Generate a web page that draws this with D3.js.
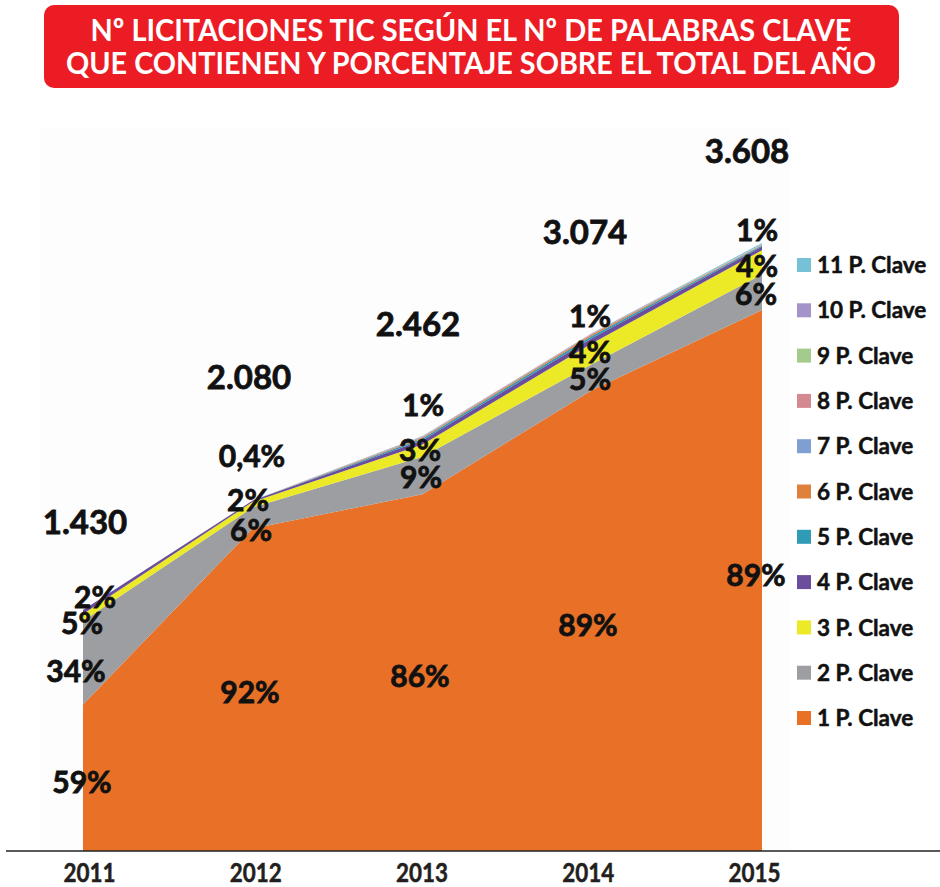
<!DOCTYPE html>
<html>
<head>
<meta charset="utf-8">
<script src="https://cdn.jsdelivr.net/npm/d3@7"></script>
<style>
  html, body { margin: 0; padding: 0; background: #fff; }
  svg { display: block; font-family: Lato, "Open Sans", sans-serif; }
</style>
</head>
<body>
<svg id="chart" width="940" height="887"></svg>
<script>
// ─── data ───
const years = [2011, 2012, 2013, 2014, 2015];
const totals = [1430, 2080, 2462, 3074, 3608];
const seriesNames = ['1 P. Clave', '2 P. Clave', '3 P. Clave', '4 P. Clave', '5 P. Clave', '6 P. Clave',
  '7 P. Clave', '8 P. Clave', '9 P. Clave', '10 P. Clave', '11 P. Clave'];
const seriesColors = ['#e87027', '#9c9ea1', '#ecea26', '#6b4d9d', '#2f9bb4', '#e0803d',
  '#7f9fd3', '#d38990', '#a4cb8b', '#a493c8', '#76c1d6'];
// counts per series, one value per year
const p1 = [870, 1914, 2117, 2736, 3211];
const p2 = [495, 125, 222, 154, 210];
const p3 = [42, 33, 74, 123, 144];
const p4 = [23, 8, 25, 31, 22];
const p5 = [0, 0, 10, 14, 6];
const p6 = [0, 0, 6, 8, 3];
const p7 = [0, 0, 4, 4, 2];
const p8 = [0, 0, 2, 2, 1];
const p9 = [0, 0, 1, 1, 1];
const p10 = [0, 0, 1, 1, 1];
const p11 = [0, 0, 0, 0, 7];
const seriesValues = [p1, p2, p3, p4, p5, p6, p7, p8, p9, p10, p11];

// percentage labels as printed, per year (bottom → top)
const pctLabels = [
  ['59%', '34%', '5%', '2%'],
  ['92%', '6%', '2%', '0,4%'],
  ['86%', '9%', '3%', '1%'],
  ['89%', '5%', '4%', '1%'],
  ['89%', '6%', '4%', '1%'],
];
const totalLabels = ['1.430', '2.080', '2.462', '3.074', '3.608'];

// label layout (pixel centres), kept apart from the data
const pctLayout = [
  [[82, 782], [76, 671], [82, 623], [95, 597]],
  [[250, 692], [251, 530], [248, 500], [252, 456]],
  [[420, 676], [421, 477], [420, 450], [423, 405]],
  [[588, 625], [590, 379], [590, 352], [590, 316]],
  [[756, 575], [756, 294], [757, 266], [757, 230]],
];
const totalLayout = [[85, 522], [249, 377], [418, 324], [585, 232], [747, 151]];

// ─── setup ───
const svg = d3.select('#chart');
const baseY = 851;

const x = d3.scaleLinear().domain([2011, 2015]).range([83, 762]);
const y = d3.scaleLinear().domain([0, 3608]).range([baseY, 243]);

const rows = years.map((yr, i) => {
  const r = { year: yr };
  seriesNames.forEach((s, k) => { r[s] = seriesValues[k][i]; });
  return r;
});
const stacked = d3.stack().keys(seriesNames)(rows);
const color = d3.scaleOrdinal().domain(seriesNames).range(seriesColors);

// title banner
svg.append('rect')
  .attr('x', 44).attr('y', 5).attr('width', 855).attr('height', 83)
  .attr('rx', 10).attr('fill', '#ec1c24');
const titleLines = [
  { t: 'Nº LICITACIONES TIC SEGÚN EL Nº DE PALABRAS CLAVE', y: 41, len: 761 },
  { t: 'QUE CONTIENEN Y PORCENTAJE SOBRE EL TOTAL DEL AÑO', y: 74, len: 810 },
];
svg.selectAll('text.title')
  .data(titleLines)
  .enter()
  .append('text')
  .attr('class', 'title')
  .attr('x', 471).attr('y', d => d.y)
  .attr('text-anchor', 'middle')
  .attr('textLength', d => d.len)
  .attr('lengthAdjust', 'spacingAndGlyphs')
  .attr('fill', '#fff')
  .attr('font-size', 31)
  .attr('font-weight', 700)
  .text(d => d.t);

// faint plot panel
svg.append('rect')
  .attr('x', 40).attr('y', 127).attr('width', 750).attr('height', baseY - 127)
  .attr('fill', '#fdfdfd');

// areas
const area = d3.area()
  .x(d => x(d.data.year))
  .y0(d => y(d[0]))
  .y1(d => y(d[1]));

svg.append('g')
  .selectAll('path')
  .data(stacked)
  .enter()
  .append('path')
  .attr('d', area)
  .attr('fill', d => color(d.key));

// axis
svg.append('line')
  .attr('x1', 6).attr('x2', 940).attr('y1', baseY).attr('y2', baseY)
  .attr('stroke', '#222').attr('stroke-width', 1.5);

const xLab = d3.scalePoint().domain(years).range([89, 754]);
const ax = svg.append('g')
  .attr('transform', `translate(0,${baseY})`)
  .call(d3.axisBottom(xLab).tickSize(0).tickPadding(0));
ax.select('.domain').remove();
ax.selectAll('text')
  .attr('y', 31)
  .attr('dy', 0)
  .attr('font-family', 'Lato, sans-serif')
  .attr('font-size', 26)
  .attr('font-weight', 700)
  .attr('fill', '#231f20')
  .attr('stroke', '#231f20')
  .attr('stroke-width', 0.5)
  .attr('textLength', 52)
  .attr('lengthAdjust', 'spacingAndGlyphs');

// percentage labels
const pctData = [];
pctLabels.forEach((arr, i) => arr.forEach((t, k) => pctData.push({ t, pos: pctLayout[i][k] })));
svg.append('g')
  .selectAll('text')
  .data(pctData)
  .enter()
  .append('text')
  .attr('x', d => d.pos[0])
  .attr('y', d => d.pos[1])
  .attr('dy', '0.36em')
  .attr('text-anchor', 'middle')
  .attr('font-size', 30)
  .attr('font-weight', 700)
  .attr('fill', '#111')
  .attr('stroke', '#111')
  .attr('stroke-width', 0.8)
  .text(d => d.t);

// total labels
svg.append('g')
  .selectAll('text')
  .data(totalLabels)
  .enter()
  .append('text')
  .attr('x', (d, i) => totalLayout[i][0])
  .attr('y', (d, i) => totalLayout[i][1])
  .attr('dy', '0.36em')
  .attr('text-anchor', 'middle')
  .attr('font-size', 33)
  .attr('font-weight', 700)
  .attr('fill', '#111')
  .attr('stroke', '#111')
  .attr('stroke-width', 0.8)
  .text(d => d);

// legend, top entry is 11 P. Clave
const legendOrder = seriesNames.slice().reverse();
const leg = svg.append('g')
  .selectAll('g')
  .data(legendOrder)
  .enter()
  .append('g')
  .attr('transform', (d, i) => `translate(797,${265 + i * 45.3})`);
leg.append('rect')
  .attr('x', 0).attr('y', -7).attr('width', 14).attr('height', 14)
  .attr('fill', d => color(d));
leg.append('text')
  .attr('x', 20).attr('y', 0).attr('dy', '0.36em')
  .attr('font-size', 22.5)
  .attr('font-weight', 700)
  .attr('fill', '#111')
  .attr('stroke', '#111')
  .attr('stroke-width', 0.5)
  .text(d => d);
</script>
</body>
</html>
